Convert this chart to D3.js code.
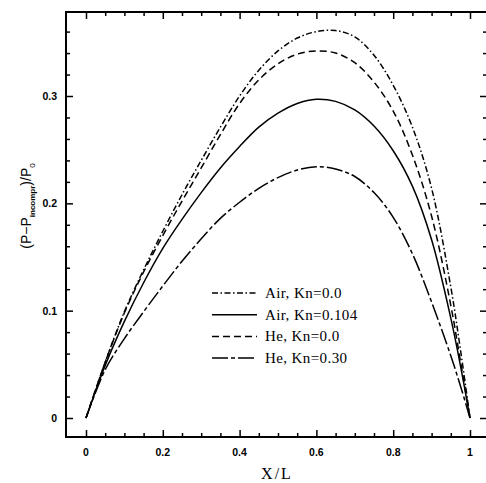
<!DOCTYPE html>
<html>
<head>
<meta charset="utf-8">
<script src="https://cdn.jsdelivr.net/npm/d3@7"></script>
<style>
  body { margin: 0; background: #fff; }
  svg { display: block; }
</style>
</head>
<body>
<div id="chart"></div>
<script>
// DATA
const xValues = [0, 0.05, 0.1, 0.15, 0.2, 0.25, 0.3, 0.35, 0.4, 0.45, 0.5, 0.55, 0.6, 0.65, 0.7, 0.75, 0.8, 0.85, 0.9, 0.95, 0.975, 1];
const airKn0 = [0, 0.052, 0.099, 0.138, 0.174, 0.208, 0.240, 0.271, 0.300, 0.324, 0.342, 0.354, 0.360, 0.361, 0.355, 0.338, 0.310, 0.271, 0.214, 0.122, 0.064, 0];
const airKn0104 = [0, 0.049, 0.090, 0.126, 0.158, 0.185, 0.210, 0.233, 0.253, 0.271, 0.284, 0.293, 0.297, 0.295, 0.287, 0.272, 0.249, 0.216, 0.166, 0.093, 0.049, 0];
const heKn0 = [0, 0.052, 0.098, 0.136, 0.170, 0.202, 0.233, 0.264, 0.293, 0.315, 0.330, 0.339, 0.342, 0.340, 0.331, 0.313, 0.286, 0.245, 0.188, 0.105, 0.053, 0];
const heKn030 = [0, 0.045, 0.074, 0.099, 0.123, 0.146, 0.167, 0.186, 0.201, 0.214, 0.224, 0.231, 0.234, 0.232, 0.225, 0.210, 0.187, 0.153, 0.108, 0.058, 0.030, 0];

const seriesNames = ["Air, Kn=0.0", "Air, Kn=0.104", "He, Kn=0.0", "He, Kn=0.30"];
const seriesValues = [airKn0, airKn0104, heKn0, heKn030];
const seriesDash = ["6,2.5,1.5,2.5", null, "7,4", "16,3,4,3"];

const xTicks = [0, 0.2, 0.4, 0.6, 0.8, 1];
const yTicks = [0, 0.1, 0.2, 0.3];

const WIDTH = 486, HEIGHT = 483;
const FRAME = { LEFT: 66, TOP: 12, RIGHT: 487, BOTTOM: 437 };

const svg = d3.select("#chart")
  .append("svg")
  .attr("width", WIDTH)
  .attr("height", HEIGHT);

// SCALES
const x = d3.scaleLinear().domain([0, 1]).range([86, 470]);
const y = d3.scaleLinear().domain([0, 0.3]).range([418, 96]);

const xMinor = d3.range(0, 1.0001, 0.05).filter((d) => Math.round(d * 100) % 20 !== 0);
const yMinor = d3.range(0, 0.3601, 0.02).filter((d) => Math.round(d * 100) % 10 !== 0);

// AXES (ticks pointing inward)
const axisFont = "Liberation Sans, Arial, sans-serif";

function styleAxis(g) {
  g.select(".domain").remove();
  g.selectAll(".tick line").attr("stroke", "#000").attr("stroke-width", 1.5);
}

// bottom
svg.append("g")
  .attr("transform", `translate(0, ${FRAME.BOTTOM})`)
  .call(d3.axisTop(x).tickValues(xTicks).tickSize(7).tickFormat(""))
  .call(styleAxis);
svg.append("g")
  .attr("transform", `translate(0, ${FRAME.BOTTOM})`)
  .call(d3.axisTop(x).tickValues(xMinor).tickSize(4).tickFormat(""))
  .call(styleAxis);
svg.append("g")
  .selectAll("text")
  .data(xTicks)
  .enter()
  .append("text")
  .attr("x", (d) => x(d))
  .attr("y", 456)
  .attr("text-anchor", "middle")
  .style("font-family", axisFont)
  .style("font-weight", "bold")
  .style("font-size", "10.5px")
  .text((d) => d3.format("")(d));

// top
svg.append("g")
  .attr("transform", `translate(0, ${FRAME.TOP})`)
  .call(d3.axisBottom(x).tickValues(xTicks).tickSize(7).tickFormat(""))
  .call(styleAxis);
svg.append("g")
  .attr("transform", `translate(0, ${FRAME.TOP})`)
  .call(d3.axisBottom(x).tickValues(xMinor).tickSize(4).tickFormat(""))
  .call(styleAxis);

// left
svg.append("g")
  .attr("transform", `translate(${FRAME.LEFT}, 0)`)
  .call(d3.axisRight(y).tickValues(yTicks).tickSize(7).tickFormat(""))
  .call(styleAxis);
svg.append("g")
  .attr("transform", `translate(${FRAME.LEFT}, 0)`)
  .call(d3.axisRight(y).tickValues(yMinor).tickSize(4).tickFormat(""))
  .call(styleAxis);
svg.append("g")
  .selectAll("text")
  .data(yTicks)
  .enter()
  .append("text")
  .attr("x", 57)
  .attr("y", (d) => y(d) + 4)
  .attr("text-anchor", "end")
  .style("font-family", axisFont)
  .style("font-weight", "bold")
  .style("font-size", "10.5px")
  .text((d) => d3.format("")(d));

// right
svg.append("g")
  .attr("transform", `translate(${FRAME.RIGHT}, 0)`)
  .call(d3.axisLeft(y).tickValues(yTicks).tickSize(7).tickFormat(""))
  .call(styleAxis);
svg.append("g")
  .attr("transform", `translate(${FRAME.RIGHT}, 0)`)
  .call(d3.axisLeft(y).tickValues(yMinor).tickSize(4).tickFormat(""))
  .call(styleAxis);

// FRAME
svg.append("rect")
  .attr("x", FRAME.LEFT)
  .attr("y", FRAME.TOP)
  .attr("width", FRAME.RIGHT - FRAME.LEFT)
  .attr("height", FRAME.BOTTOM - FRAME.TOP)
  .attr("fill", "none")
  .attr("stroke", "#000")
  .attr("stroke-width", 2);

// CURVES
const line = d3.line()
  .x((d) => x(d[0]))
  .y((d) => y(d[1]))
  .curve(d3.curveCatmullRom.alpha(0.5));

seriesValues.forEach((vals, i) => {
  svg.append("path")
    .datum(xValues.map((xv, j) => [xv, vals[j]]))
    .attr("d", line)
    .attr("fill", "none")
    .attr("stroke", "#000")
    .attr("stroke-width", 1.5)
    .attr("stroke-dasharray", seriesDash[i]);
});

// LEGEND
const legend = svg.append("g").attr("transform", "translate(212, 293)");
seriesNames.forEach((name, i) => {
  const row = legend.append("g").attr("transform", `translate(0, ${i * 21.7})`);
  row.append("line")
    .attr("x1", 0)
    .attr("x2", 45)
    .attr("y1", 0)
    .attr("y2", 0)
    .attr("stroke", "#000")
    .attr("stroke-width", 1.5)
    .attr("stroke-dasharray", seriesDash[i]);
  row.append("text")
    .attr("x", 53)
    .attr("y", 5)
    .style("font-family", "Liberation Serif, Times New Roman, serif")
    .style("font-size", "15px")
    .style("letter-spacing", "0.4px")
    .text(name);
});

// LABELS
svg.append("text")
  .attr("x", 277)
  .attr("y", 479)
  .attr("text-anchor", "middle")
  .style("font-family", "Liberation Serif, Times New Roman, serif")
  .style("font-size", "16px")
  .style("letter-spacing", "2px")
  .text("X/L");

const yLabel = svg.append("text")
  .attr("transform", "translate(31, 206) rotate(-90)")
  .attr("text-anchor", "middle")
  .style("font-family", axisFont)
  .style("font-size", "14px");
yLabel.append("tspan").text("(P\u2212P");
yLabel.append("tspan")
  .attr("dy", 4)
  .style("font-size", "8px")
  .style("font-weight", "bold")
  .text("incompr");
yLabel.append("tspan").attr("dy", -4).text(")/P");
yLabel.append("tspan")
  .attr("dy", 4)
  .style("font-size", "8px")
  .text("0");
</script>
</body>
</html>
